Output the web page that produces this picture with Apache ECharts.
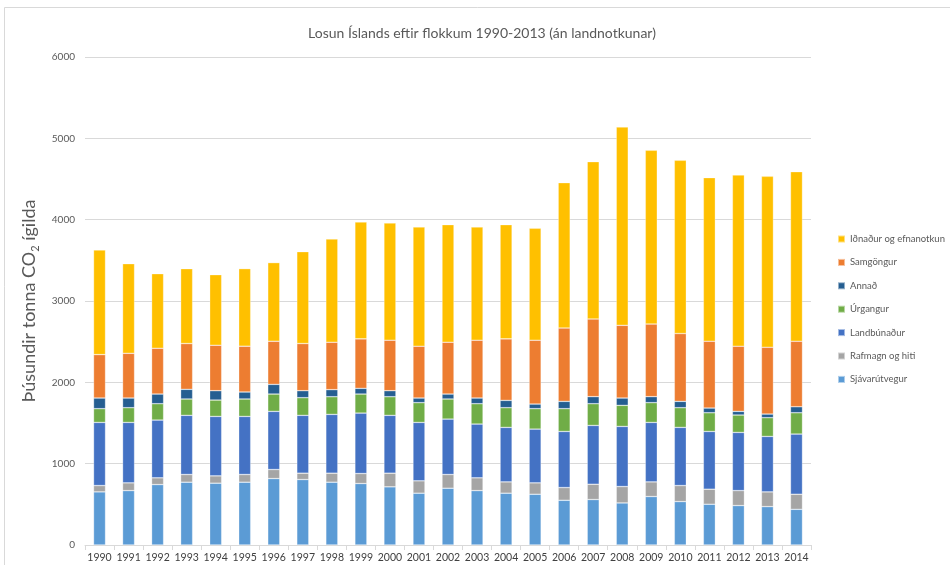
<!DOCTYPE html>
<html>
<head>
<meta charset="utf-8">
<script src="https://cdn.jsdelivr.net/npm/echarts@6/dist/echarts.min.js"></script>
<style>
  html, body { margin: 0; padding: 0; background: #fff; }
  #chart { width: 950px; height: 565px; }
</style>
</head>
<body>
<div id="chart"></div>
<script>
// ár
var years = ["1990", "1991", "1992", "1993", "1994", "1995", "1996", "1997", "1998", "1999",
  "2000", "2001", "2002", "2003", "2004", "2005", "2006", "2007", "2008", "2009",
  "2010", "2011", "2012", "2013", "2014"];

// flokkar, neðst upp
var sjavarutvegur = [653, 669, 743, 772, 760, 772, 817, 805, 772, 756, 715, 637, 698, 669, 637, 624, 550, 559, 517, 596, 534, 501, 485, 472, 439];
var rafmagn = [78, 95, 83, 95, 90, 95, 111, 78, 111, 123, 168, 152, 169, 157, 139, 140, 156, 188, 202, 180, 197, 185, 184, 181, 185];
var landbunadur = [776, 743, 710, 727, 731, 714, 715, 711, 723, 743, 711, 718, 681, 661, 670, 661, 690, 723, 739, 731, 715, 710, 715, 682, 740];
var urgangur = [169, 181, 201, 201, 201, 214, 213, 217, 217, 234, 229, 243, 247, 250, 242, 251, 280, 267, 259, 243, 242, 230, 214, 230, 262];
var annad = [131, 119, 119, 119, 115, 86, 119, 86, 87, 70, 74, 57, 61, 70, 90, 57, 90, 87, 90, 74, 78, 58, 45, 45, 74];
var samgongur = [534, 550, 563, 563, 559, 563, 530, 580, 583, 608, 621, 637, 637, 711, 756, 785, 902, 955, 894, 893, 834, 821, 801, 821, 805];
var idnadur = [1286, 1102, 917, 921, 868, 954, 967, 1130, 1269, 1437, 1441, 1466, 1446, 1392, 1405, 1376, 1787, 1934, 2438, 2136, 2130, 2012, 2105, 2102, 2085];

var yTicks = [0, 1000, 2000, 3000, 4000, 5000, 6000];

var myChart = echarts.init(document.getElementById("chart"));

var seriesDefs = [
  { name: "Sjávarútvegur", data: sjavarutvegur, color: "#5B9BD5" },
  { name: "Rafmagn og hiti", data: rafmagn, color: "#A5A5A5" },
  { name: "Landbúnaður", data: landbunadur, color: "#4472C4" },
  { name: "Úrgangur", data: urgangur, color: "#70AD47" },
  { name: "Annað", data: annad, color: "#255E91" },
  { name: "Samgöngur", data: samgongur, color: "#ED7D31" },
  { name: "Iðnaður og efnanotkun", data: idnadur, color: "#FFC000" }
];

var series = seriesDefs.map(function (s) {
  return {
    name: s.name,
    type: "bar",
    stack: "total",
    barWidth: 12,
    data: s.data,
    itemStyle: {
      color: s.color,
      borderColor: "rgba(255,255,255,0.5)",
      borderWidth: 0.6
    }
  };
});

var option = {
  backgroundColor: "#fff",
  animation: false,
  textStyle: { fontFamily: "Lato" },
  title: {
    text: "Losun Íslands eftir flokkum 1990-2013 (án landnotkunar)",
    left: 477,
    textAlign: "center",
    top: 21,
    textStyle: {
      fontFamily: "Lato",
      fontSize: 14,
      fontWeight: "normal",
      color: "#595959"
    }
  },
  graphic: [
    {
      type: "rect",
      shape: { x: 4.5, y: 7.5, width: 960, height: 570 },
      style: { fill: "none", stroke: "#d9d9d9", lineWidth: 1 },
      silent: true
    }
  ],
  legend: {
    orient: "vertical",
    left: 832,
    top: 229,
    itemWidth: 7,
    itemHeight: 7,
    itemGap: 13.4,
    icon: "rect",
    data: seriesDefs.map(function (s) { return s.name; }).reverse(),
    textStyle: {
      fontFamily: "Lato",
      fontSize: 9.5,
      color: "#595959",
      lineHeight: 10
    }
  },
  grid: {
    left: 85,
    right: 139,
    top: 57,
    bottom: 20,
    containLabel: false
  },
  xAxis: {
    type: "category",
    data: years,
    axisLine: { lineStyle: { color: "#d9d9d9" } },
    axisTick: { show: true, length: 5, lineStyle: { color: "#d9d9d9" } },
    axisLabel: {
      interval: 0,
      color: "#404040",
      fontFamily: "Lato",
      fontSize: 10.5,
      margin: 7
    }
  },
  yAxis: {
    type: "value",
    min: yTicks[0],
    max: yTicks[yTicks.length - 1],
    interval: 1000,
    name: "{a|Þúsundir tonna CO}{s|2}{a| ígilda}",
    nameLocation: "middle",
    nameGap: 44,
    nameRotate: 90,
    nameTextStyle: {
      rich: {
        a: { fontFamily: "Lato", fontSize: 18, color: "#595959", lineHeight: 24, verticalAlign: "middle" },
        s: { fontFamily: "Lato", fontSize: 11, color: "#595959", lineHeight: 24, verticalAlign: "bottom", padding: [8, 0, 0, 0] }
      }
    },
    axisLine: { show: false },
    axisTick: { show: false },
    axisLabel: {
      color: "#595959",
      fontFamily: "Lato",
      fontSize: 10,
      margin: 10,
      formatter: function (v) { return String(v); }
    },
    splitLine: { lineStyle: { color: "#d9d9d9", width: 1 } }
  },
  series: series
};

myChart.setOption(option);
</script>
</body>
</html>
